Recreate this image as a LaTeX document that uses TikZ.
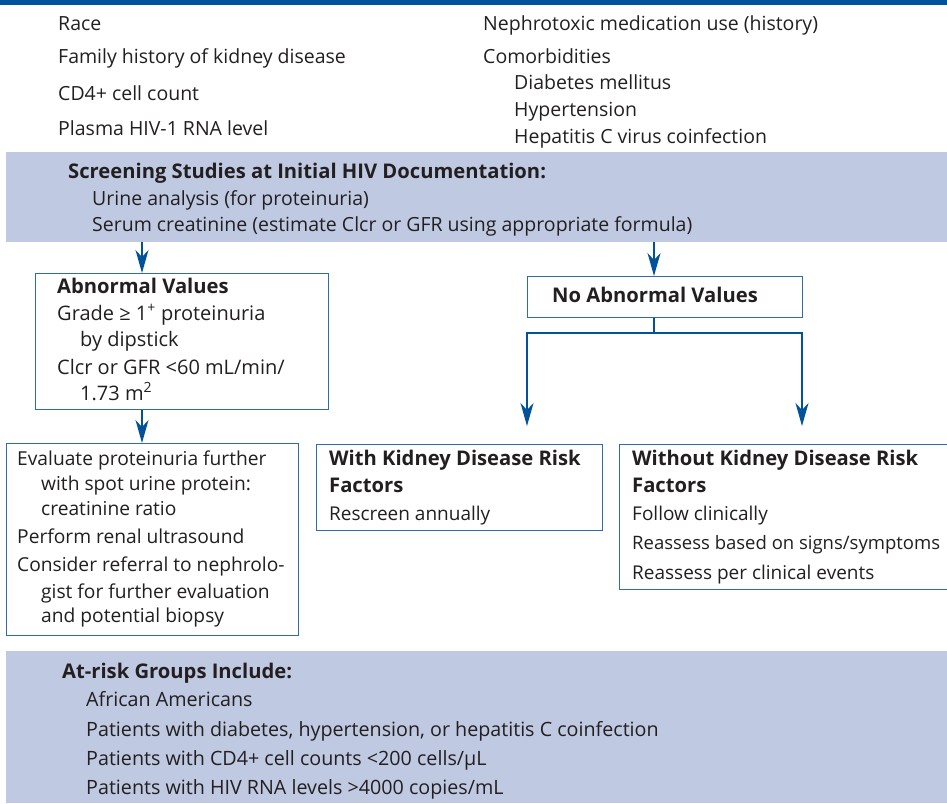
\documentclass[tikz,border=0pt]{standalone}
\usepackage{fontspec}
\setmainfont{Open Sans}
\usetikzlibrary{arrows.meta}
\definecolor{bandblue}{HTML}{BFC9E2}
\definecolor{darkblue}{HTML}{00539B}
\definecolor{boxblue}{HTML}{2E6DAD}
\definecolor{arrblue}{HTML}{00539B}
\definecolor{txt}{HTML}{231F20}
\begin{document}
\begin{tikzpicture}[x=1pt,y=-1pt,
  txtline/.style={anchor=base west, inner sep=0pt, text=txt, font=\fontsize{#1}{23}\selectfont},
  txtline/.default=19.5,
  boldline/.style={anchor=base west, inner sep=0pt, text=txt, font=\fontsize{20.2}{23}\selectfont\bfseries},
  band/.style={fill=bandblue, draw=none, anchor=north west, inner sep=0pt},
  frame/.style={draw=boxblue, line width=1.3pt, fill=white, anchor=north west, inner sep=0pt},
  arr/.style={draw=arrblue, line width=1.4pt, -{Stealth[length=23pt,width=13pt,inset=7pt]}},
  link/.style={draw=arrblue, line width=1.4pt}]
\useasboundingbox (0,0) rectangle (947,803);
% top bar
\node[fill=darkblue, anchor=north west, inner sep=0pt, minimum width=947pt, minimum height=4.5pt] (topbar) at (0,0) {};
% top lists
\node[txtline] (r1) at (58,30) {Race};
\node[txtline] (r2) at (58,63.5) {Family history of kidney disease};
\node[txtline] (r3) at (58,100) {CD4+ cell count};
\node[txtline] (r4) at (58,135) {Plasma HIV-1 RNA level};
\node[txtline] (r5) at (483,30.5) {Nephrotoxic medication use (history)};
\node[txtline] (r6) at (483,63) {Comorbidities};
\node[txtline] (r7) at (514,89) {Diabetes mellitus};
\node[txtline] (r8) at (514,116.5) {Hypertension};
\node[txtline] (r9) at (514,143) {Hepatitis C virus coinfection};
% band 1
\node[band, minimum width=941pt, minimum height=90pt] (band1) at (6,152) {};
\node[boldline] (s1) at (68,178) {Screening Studies at Initial HIV Documentation:};
\node[txtline] (s2) at (92,205) {Urine analysis (for proteinuria)};
\node[txtline] (s3) at (92,231) {Serum creatinine (estimate Clcr or GFR using appropriate formula)};
% abnormal box
\node[frame, minimum width=293pt, minimum height=136pt] (abn) at (35,273) {};
\node[boldline] (a1) at (57,293.5) {Abnormal Values};
\node[txtline=20] (a2) at (57,320.5) {Grade ≥ 1\textsuperscript{+} proteinuria};
\node[txtline=20] (a3) at (80,346.5) {by dipstick};
\node[txtline=20] (a4) at (57,374) {Clcr or GFR <60 mL/min/};
\node[txtline=20] (a5) at (80,400.5) {1.73 m\textsuperscript{2}};
% no abnormal box
\node[frame, minimum width=275pt, minimum height=41pt] (noabn) at (527,276) {};
\node[boldline] (n1) at (552,302.5) {No Abnormal Values};
% evaluate box
\node[frame, minimum width=292pt, minimum height=192pt] (eval) at (6,443) {};
\node[txtline=19.2] (e1) at (17,465) {Evaluate proteinuria further};
\node[txtline=19.2] (e2) at (41,490.5) {with spot urine protein:};
\node[txtline=19.2] (e3) at (41,515) {creatinine ratio};
\node[txtline=19.2] (e4) at (17,543) {Perform renal ultrasound};
\node[txtline=19.2] (e5) at (17,571.5) {Consider referral to nephrolo-};
\node[txtline=19.2] (e6) at (41,598) {gist for further evaluation};
\node[txtline=19.2] (e7) at (41,622.5) {and potential biopsy};
% with risk box
\node[frame, minimum width=286pt, minimum height=86pt] (with) at (316,444) {};
\node[boldline] (w1) at (329,465) {With Kidney Disease Risk};
\node[boldline] (w2) at (329,492) {Factors};
\node[txtline=19] (w3) at (329,520) {Rescreen annually};
% without risk box
\node[frame, minimum width=332pt, minimum height=145pt] (without) at (619,444) {};
\node[boldline] (o1) at (632,465) {Without Kidney Disease Risk};
\node[boldline] (o2) at (632,492) {Factors};
\node[txtline=19] (o3) at (632,520.5) {Follow clinically};
\node[txtline=18.5] (o4) at (632,549.5) {Reassess based on signs/symptoms};
\node[txtline=19] (o5) at (632,579) {Reassess per clinical events};
% band 2
\node[band, minimum width=941pt, minimum height=152pt] (band2) at (6,651) {};
\node[boldline] (g1) at (62,678) {At-risk Groups Include:};
\node[txtline=19.7] (g2) at (86,706.5) {African Americans};
\node[txtline=19.7] (g3) at (86,736.5) {Patients with diabetes, hypertension, or hepatitis C coinfection};
\node[txtline=19.7] (g4) at (86,765) {Patients with CD4+ cell counts <200 cells/µL};
\node[txtline=19.7] (g5) at (86,794) {Patients with HIV RNA levels >4000 copies/mL};
% connectors
\coordinate (xa) at (142,0);
\coordinate (xb) at (654,0);
\coordinate (split) at (654,333);
\coordinate (lt) at (527,426);
\coordinate (rt) at (802,426);
\draw[arr] (xa |- band1.south) -- (xa |- abn.north);
\draw[arr] (xb |- band1.south) -- (xb |- noabn.north);
\draw[arr] (xa |- abn.south) -- (xa |- eval.north);
\draw[link] (split |- noabn.south) -- (split);
\draw[arr] (split) -| (lt);
\draw[arr] (split) -| (rt);
\end{tikzpicture}
\end{document}
